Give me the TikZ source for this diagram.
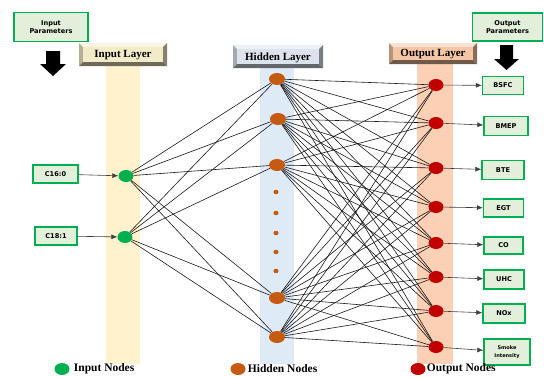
\documentclass[tikz,border=0pt]{standalone}
\usepackage{fontspec}
\setmainfont{Liberation Serif}
\setsansfont{DejaVu Sans}
\usetikzlibrary{positioning, arrows.meta, shapes.geometric}

\definecolor{boxgreen}{HTML}{00B050}
\definecolor{boxfill}{HTML}{E2EFDA}
\definecolor{inpcol}{HTML}{FFF2CC}
\definecolor{hidcol}{HTML}{DEEAF6}
\definecolor{outcol}{HTML}{FBD0B4}
\definecolor{innode}{HTML}{00B050}
\definecolor{hidnode}{HTML}{C55A11}
\definecolor{outnode}{HTML}{C00000}
\definecolor{inbanner}{HTML}{F2EBC8}
\definecolor{hidbanner}{HTML}{DCE3EC}
\definecolor{outbanner}{HTML}{F5C6A5}

\tikzset{
  parambox/.style={draw=boxgreen, line width=1.3pt, fill=boxfill, align=center,
    font=\sffamily\bfseries\fontsize{6.6}{8.6}\selectfont, inner sep=0pt},
  neuron/.style={ellipse, minimum width=15pt, minimum height=12pt, inner sep=0pt},
  link/.style={black!90, line width=0.6pt},
  feed/.style={black!75, line width=0.6pt, -{Latex[length=6pt,width=5pt]}},
  legendtext/.style={font=\bfseries\fontsize{11.5}{13}\selectfont, inner sep=0pt},
}

% bevelled layer title: name, x1, y1, x2, y2, colour, text
\newcommand{\layerbanner}[7]{%
  \fill[#6!50!white] (#2,#3) -- (#4,#3) -- (#4-4,#3+4) -- (#2+4,#3+4) -- cycle;
  \fill[#6!75!black] (#2,#3) -- (#2+4,#3+4) -- (#2+4,#5-4) -- (#2,#5) -- cycle;
  \fill[#6!55!black] (#4,#3) -- (#4,#5) -- (#4-4,#5-4) -- (#4-4,#3+4) -- cycle;
  \fill[#6!45!black] (#2,#5) -- (#4,#5) -- (#4-4,#5-4) -- (#2+4,#5-4) -- cycle;
  \fill[#6] (#2+4,#3+4) rectangle (#4-4,#5-4);
  \node[font=\bfseries\fontsize{11}{12}\selectfont, inner sep=0pt]
    (#1) at ({(#2+#4)/2},{(#3+#5)/2+1}) {#7};
}

\begin{document}
\begin{tikzpicture}[x=1pt, y=-1pt]
  \useasboundingbox (0,0) rectangle (544,376);

  % Layer columns
  \fill[inpcol] (106,66) rectangle (140,364);
  \fill[hidcol] (260,67) rectangle (294,364);
  \fill[outcol] (417,64) rectangle (453,364);

  % Layer titles
  \layerbanner{inlayer}{79}{43}{167}{66}{inbanner}{Input Layer}
  \layerbanner{hidlayer}{233}{45}{323}{68}{hidbanner}{Hidden Layer}
  \layerbanner{outlayer}{389}{43}{477}{64}{outbanner}{Output Layer}

  % Parameter headings
  \node[parambox, minimum width=74pt, minimum height=29pt] (inparams) at (51,27) {Input\\Parameters};
  \node[parambox, minimum width=70pt, minimum height=28pt] (outparams) at (507.5,27) {Output\\Parameters};
  \fill (46,51) -- (60,51) -- (60,64) -- (66,64) -- (53,76) -- (40,64) -- (46,64) -- cycle;
  \fill (500,45) -- (513,45) -- (513,59) -- (519,59) -- (506.5,70) -- (494,59) -- (500,59) -- cycle;

  % Input nodes
  \node[neuron, fill=innode] (in1) at (126,176) {};
  \node[neuron, fill=innode] (in2) at (125,237) {};

  % Hidden nodes
  \node[neuron, minimum width=16pt, fill=hidnode] (h1) at (277,79) {};
  \node[neuron, minimum width=16pt, fill=hidnode] (h2) at (278,119) {};
  \node[neuron, minimum width=16pt, fill=hidnode] (h3) at (277,165) {};
  \node[neuron, minimum width=16pt, fill=hidnode] (h4) at (277,298) {};
  \node[neuron, minimum width=16pt, fill=hidnode] (h5) at (277,337) {};
  \foreach \y in {192,213,233,252,271}
    \fill[hidnode] (276,\y) ellipse (2.6pt and 2.2pt);

  % Output nodes
  \foreach \y [count=\i] in {85,123,168,207,243,277,311,347}
    \node[neuron, fill=outnode] (out\i) at (436,\y) {};

  % Input boxes
  \node[parambox, minimum width=45pt, minimum height=18pt] (c16) at (55.5,174) {C16:0};
  \node[parambox, minimum width=42pt, minimum height=18pt] (c18) at (56,236) {C18:1};

  % Output boxes
  \node[parambox, minimum width=41pt, minimum height=18pt] (bsfc) at (503,85.5) {BSFC};
  \node[parambox, minimum width=44pt, minimum height=19pt] (bmep) at (506,126) {BMEP};
  \node[parambox, minimum width=42pt, minimum height=19pt] (bte) at (503,170) {BTE};
  \node[parambox, minimum width=40pt, minimum height=18pt] (egt) at (503.5,208) {EGT};
  \node[parambox, minimum width=39pt, minimum height=17pt] (co) at (503.5,245.5) {CO};
  \node[parambox, minimum width=40pt, minimum height=19pt] (uhc) at (504,279.5) {UHC};
  \node[parambox, minimum width=42pt, minimum height=19pt] (nox) at (504,313.5) {NOx};
  \node[parambox, minimum width=46pt, minimum height=26pt,
        font=\sffamily\bfseries\fontsize{5}{7.5}\selectfont] (smoke) at (507,352) {Smoke\\Intensity};

  % Connections
  \foreach \i in {1,2}
    \foreach \j in {1,...,5}
      \draw[link] (in\i) -- (h\j);
  \foreach \j in {1,...,5}
    \foreach \k in {1,...,8}
      \draw[link] (h\j) -- (out\k);

  % Arrows
  \draw[feed] (c16) -- (in1);
  \draw[feed] (c18) -- (in2);
  \foreach \k/\b in {1/bsfc,2/bmep,3/bte,4/egt,5/co,6/uhc,7/nox,8/smoke}
    \draw[feed] (out\k) -- (\b);

  % Legend
  \node[neuron, fill=innode] (lgin) at (62,369) {};
  \node[legendtext, right=4pt of lgin] (lgintext) {Input Nodes};
  \node[neuron, fill=hidnode] (lghid) at (238,369) {};
  \node[legendtext, right=2pt of lghid] (lghidtext) {Hidden Nodes};
  \node[neuron, fill=outnode] (lgout) at (418,369) {};
  \node[legendtext, right=1pt of lgout] (lgouttext) {Output Nodes};
\end{tikzpicture}
\end{document}
